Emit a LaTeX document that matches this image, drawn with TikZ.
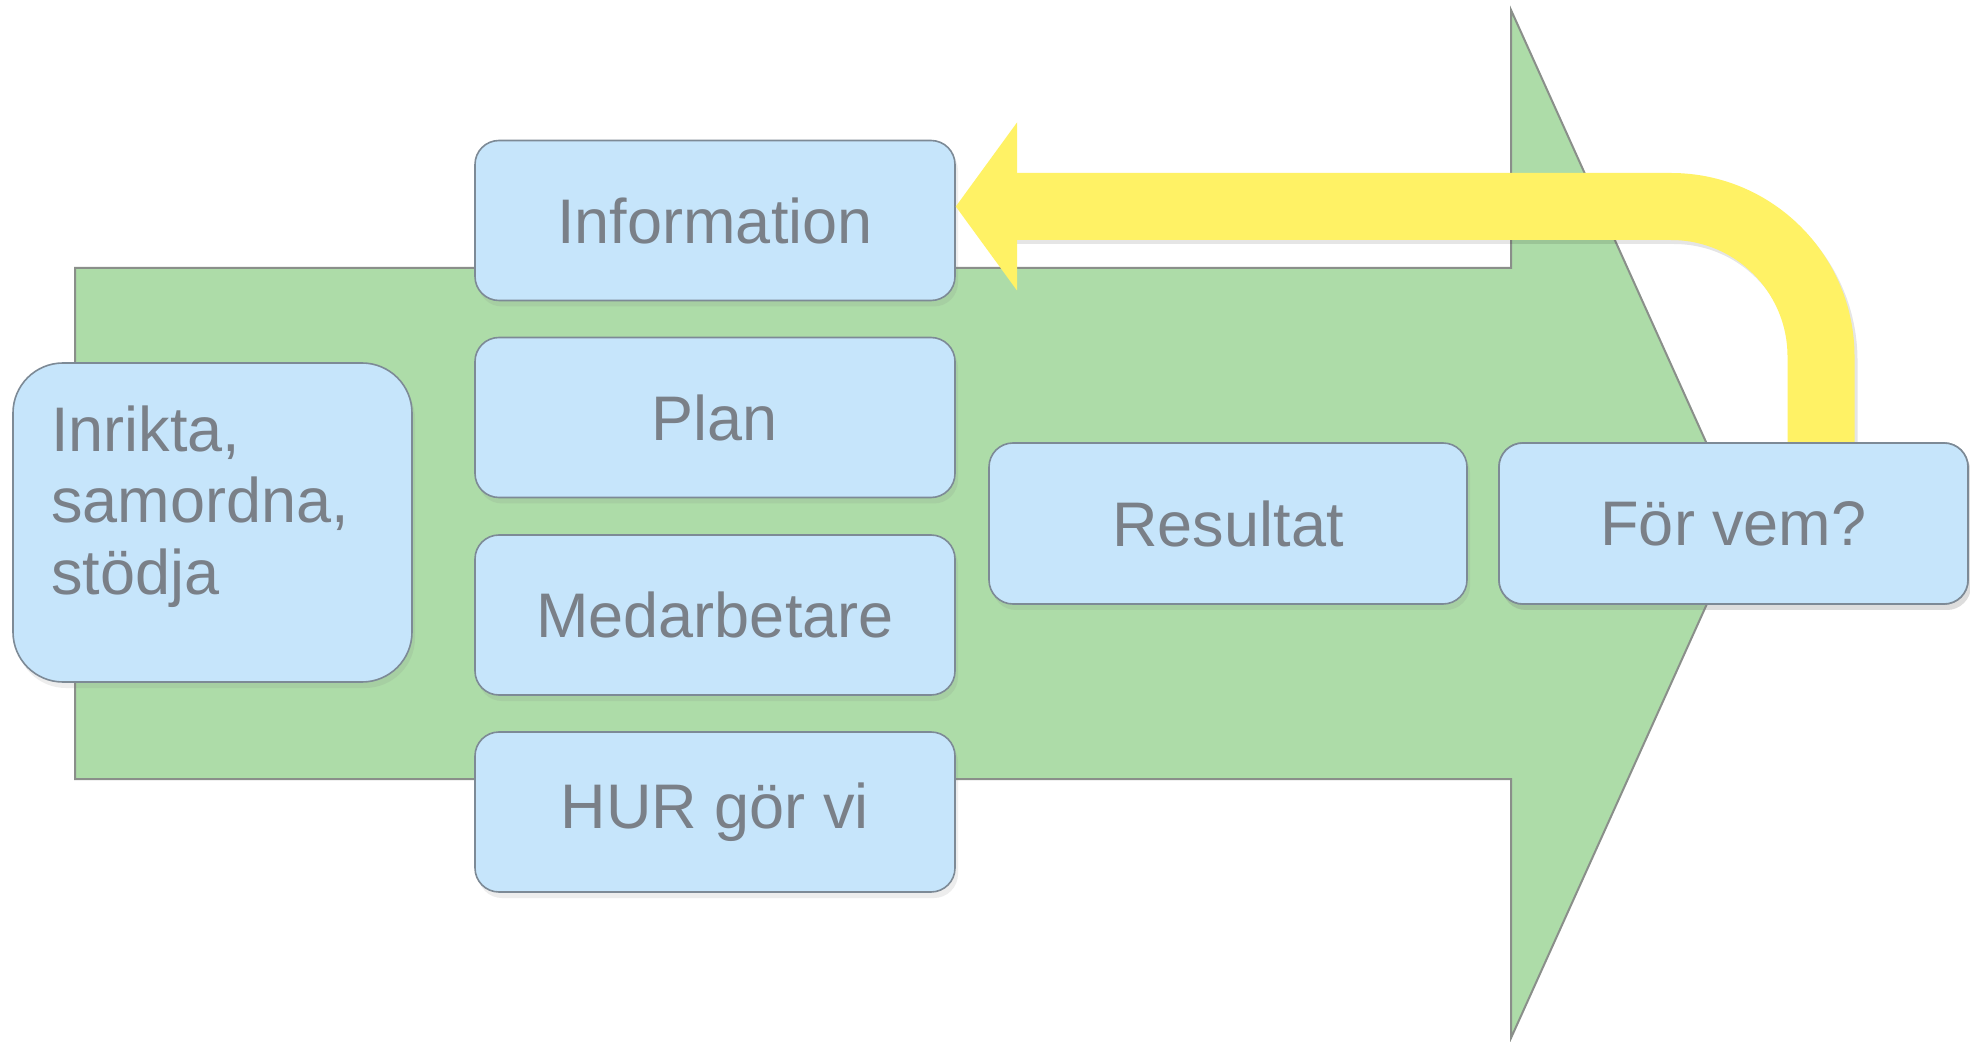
\documentclass[tikz,border=0pt]{standalone}
\usepackage{fontspec}
\setmainfont{Liberation Sans}
\usetikzlibrary{shadows,calc}
\definecolor{arrowgreen}{HTML}{ADDCA8}
\definecolor{greenline}{HTML}{8A8F8A}
\definecolor{boxblue}{HTML}{C6E5FB}
\definecolor{boxline}{HTML}{7D8A96}
\definecolor{txtgray}{HTML}{7A8088}
\definecolor{yel}{HTML}{FFF265}
\begin{document}
\begin{tikzpicture}[x=0.5pt,y=-0.5pt,
  lbl/.style={text=txtgray, font=\fontsize{31.5}{35.75}\selectfont, inner sep=0pt},
  box/.style={lbl, draw=boxline, line width=0.8pt, fill=boxblue, rounded corners=12pt,
    minimum width=240pt, minimum height=80pt,
    drop shadow={opacity=0.14, shadow xshift=1.5pt, shadow yshift=-3pt}},
  yshaft/.style={line width=33.5pt, draw=yel, rounded corners=75pt},
]
\useasboundingbox (0,0) rectangle (1970,1042);
\fill[white] (0,0) rectangle (1970,1042);

% big green arrow
\filldraw[fill=arrowgreen, draw=greenline, line width=1pt]
  (75,268) -- (1511,268) -- (1511,10) -- (1743,524) -- (1511,1038) -- (1511,779) -- (75,779) -- cycle;

% boxes
\node[box] (info) at (715,220.5) {Information};
\node[box] (plan) at (715,417.5) {Plan};
\node[box] (med) at (715,615) {Medarbetare};
\node[box] (hur) at (715,812) {HUR gör vi};
\node[box, minimum width=199.5pt, minimum height=159.5pt, rounded corners=25pt] (inr) at (212.5,522.5) {};
\node[lbl, anchor=north west, align=left] (inrtext) at (51,405) {Inrikta,\\samordna,\\stödja};
\node[box, minimum width=239pt, minimum height=80.5pt] (res) at (1228,523.5) {Resultat};

% yellow feedback arrow
\coordinate (ycorner) at (1821,206.5);
\coordinate (ybase) at (1017,206.5);
\node[box, minimum width=234.5pt, minimum height=80.5pt] (fv) at (1733.5,523.5) {För vem?};
\begin{scope}[transparency group, opacity=0.10]
  \draw[yshaft, draw=black] ($(fv.north -| ycorner)+(3,4)$) -- ($(ycorner)+(3,4)$) -- ($(ybase)+(-2,4)$);
\end{scope}
\draw[yshaft] (fv.north -| ycorner) -- (ycorner) -- ($(ybase)+(-5,0)$);
\fill[yel] (info.east |- ybase) -- ($(ybase)+(0,-84)$) -- ($(ybase)+(0,84)$) -- cycle;
% box drawn again on top of the arrow end
\node[box, minimum width=234.5pt, minimum height=80.5pt] at (fv) {För vem?};
\end{tikzpicture}
\end{document}
